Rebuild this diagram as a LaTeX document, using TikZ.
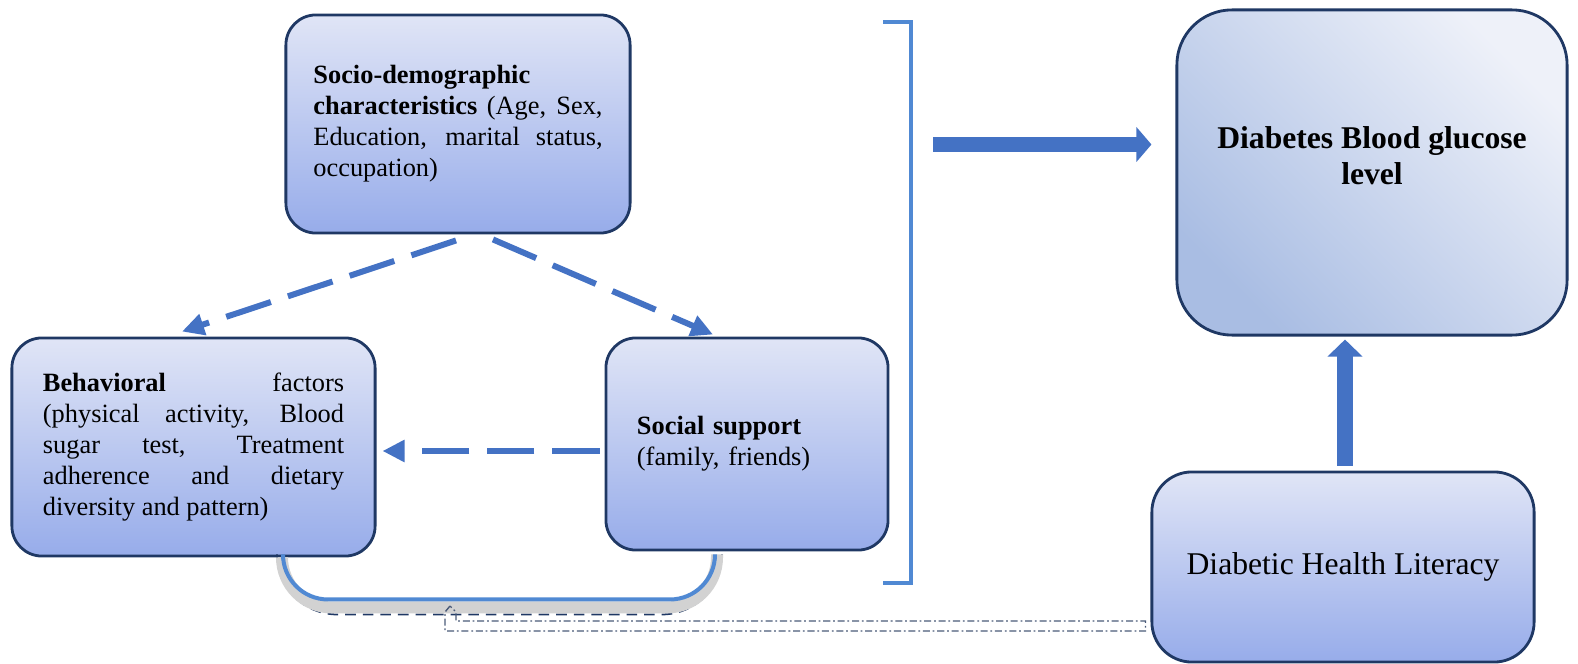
\documentclass[tikz,border=0pt]{standalone}
\usepackage{fontspec}
\setmainfont{Liberation Serif}
\definecolor{navy}{HTML}{1F3864}
\definecolor{boxtop}{HTML}{E0E5F6}
\definecolor{boxbot}{HTML}{97ACEA}
\definecolor{bgllight}{HTML}{EEF1F9}
\definecolor{bgldark}{HTML}{A9BDE3}
\definecolor{linkblue}{HTML}{4472C4}
\definecolor{loopblue}{HTML}{5089D3}
\definecolor{slate}{HTML}{4A5A78}
\usetikzlibrary{arrows.meta, calc, positioning}
\newcommand{\fatarrow}[3]
{
	\draw[draw=linkblue, line width=#1, -{Triangle[length=#2, width=#3]}]
}

\begin{document}
\begin{tikzpicture}[x=0.01cm, y=-0.01cm,
	box/.style={draw=navy, line width=0.8pt, rounded corners=0.3cm, top color=boxtop, bottom color=boxbot, inner sep=0pt},
	txt/.style={font=\fontsize{7.5}{8.8}\selectfont},
	link/.style={draw=linkblue, line width=0.06cm, dash pattern=on 0.47cm off 0.18cm, -{Triangle[length=0.22cm, width=0.21cm]}}]
	\useasboundingbox (0,0) rectangle (1578,664);
	\node[box, txt, minimum width=3.44cm, minimum height=2.18cm, text width=2.89cm, align=justify] (socio) at (458,124)
		{\textbf{Socio-demographic}\newline\textbf{characteristics} (Age, Sex,\linebreak Education, marital status,\linebreak occupation)};
	\node[box, txt, minimum width=3.63cm, minimum height=2.18cm, text width=3.01cm, align=justify] (behav) at (193.5,447)
		{\textbf{Behavioral} factors\linebreak (physical activity, Blood\linebreak sugar test, Treatment\linebreak adherence and dietary\linebreak diversity and pattern)};
	\node[box, txt, minimum width=2.82cm, minimum height=2.12cm, text width=2.2cm, align=left] (social) at (747,444)
		{\textbf{Social support}\\(family, friends)};
	\node[box, rounded corners=0.55cm, minimum width=3.9cm, minimum height=3.25cm, top color=bgllight, bottom color=bgldark, shading angle=-45] (bgl) at (1372,172.5) {};
	\node[font=\fontsize{9}{10.2}\selectfont\bfseries, align=center] (bgltext) at ($(bgl.center)+(0,-17)$) {Diabetes Blood glucose\\level};
	\node[box, rounded corners=0.4cm, minimum width=3.82cm, minimum height=1.9cm, font=\fontsize{9}{10.8}\selectfont] (dhl) at (1343,567) {Diabetic Health Literacy};
	% bracket round the three factors
	\coordinate (brtop) at (911,22);
	\coordinate (brbot) at (911,583);
	\draw[loopblue, line width=0.04cm] ($(brtop)+(-28,0)$) -- (brtop) -- (brbot) -- ($(brbot)+(-28,0)$);
	\fatarrow{0.15cm}{0.15cm}{0.34cm} ($(brtop)+(22,122.5)$) -- ($(bgl.west)+(-24,-28)$);
	\fatarrow{0.166cm}{0.17cm}{0.34cm} ($(dhl.north)+(2,-5)$) -- ($(dhl.north)+(2,-131)$);
	% dashed links
	\coordinate (sd1) at ($(socio.south)+(-2,6)$);
	\coordinate (bf1) at ($(behav.north)+(-11.5,-5)$);
	\coordinate (sd2) at ($(socio.south)+(35,5)$);
	\coordinate (ss2) at ($(social.north)+(-34,-2)$);
	\coordinate (ss3) at ($(social.west)+(-5,7)$);
	\coordinate (bf3) at ($(behav.east)+(6,4)$);
	\foreach \a/\b in {sd1/bf1, sd2/ss2, ss3/bf3}
		\draw[link] (\a) -- (\b);
	% loop under the boxes
	\coordinate (loopL) at ($(behav.south)+(89.5,0)$);
	\coordinate (loopR) at ($(social.south)+(-32,3)$);
	\draw[navy, line width=0.5pt, densely dashed, rounded corners=0.6cm] ($(loopL)+(-6,0)$) -- ++(0,57) -| ($(loopR)+(7,0)$);
	\draw[gray!35, line width=0.12cm, rounded corners=0.5cm] ($(loopL)+(-1,0)$) -- ++(0,50) -| ($(loopR)+(2,0)$);
	\draw[loopblue, line width=0.04cm, rounded corners=0.45cm] (loopL) -- ++(0,42) -| (loopR);
	\coordinate (hook) at (450,606);
	\draw[slate, line width=0.4pt, dash pattern=on 2pt off 0.8pt on 0.5pt off 0.8pt] (hook) -- ++(-5,6) -- ++(0,19) -- ($(dhl.west)+(-5,64)$) -- ++(0,-10) -- ($(hook)+(6,15)$) -- ++(0,-9) -- cycle;
\end{tikzpicture}
\end{document}
